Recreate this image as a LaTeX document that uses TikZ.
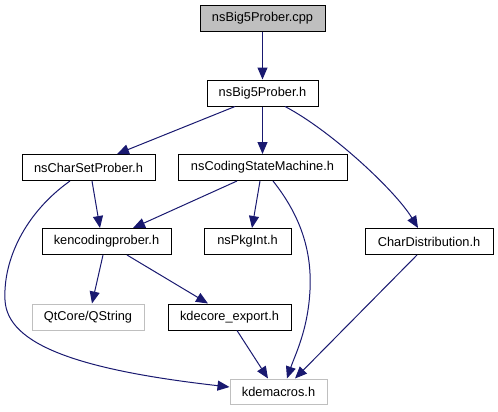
\documentclass[tikz,border=0pt]{standalone}
\usepackage{fontspec}
\setmainfont{Liberation Sans}
\usetikzlibrary{arrows.meta,calc}
\definecolor{edgecol}{HTML}{191970}
\definecolor{graybox}{HTML}{BFBFBF}
\begin{document}
\begin{tikzpicture}[x=0.75pt,y=-0.75pt,
  box/.style={draw=black,line width=0.75pt,fill=white,inner sep=0pt,minimum height=19.5pt,font=\fontsize{9.6pt}{11pt}\selectfont},
  gbox/.style={box,draw=graybox},
  dep/.style={draw=edgecol,line width=0.75pt,-{Triangle[length=9pt,width=7.5pt]}}]
\useasboundingbox (0,0) rectangle (498,411);
\node[box,fill=graybox,minimum width=93.75pt] (cpp) at (262.5,18.5) {nsBig5Prober.cpp};
\node[box,minimum width=83.25pt] (bh) at (262.5,93) {nsBig5Prober.h};
\node[box,minimum width=99.75pt] (csp) at (88.5,167.5) {nsCharSetProber.h};
\node[box,minimum width=126.75pt] (csm) at (262.5,167.5) {nsCodingStateMachine.h};
\node[box,minimum width=96.75pt] (kep) at (106.5,241.5) {kencodingprober.h};
\node[box,minimum width=65.25pt] (pkg) at (247.5,241.5) {nsPkgInt.h};
\node[box,minimum width=96pt] (cd) at (429,241.5) {CharDistribution.h};
\node[gbox,minimum width=84pt] (qs) at (88,317) {QtCore/QString};
\node[box,minimum width=92.25pt] (kex) at (229.5,317) {kdecore\_export.h};
\node[gbox,minimum width=72.75pt,minimum height=18.75pt] (kdm) at (278.5,391.5) {kdemacros.h};

\draw[dep] (cpp.south) -- (bh.north);
\draw[dep] ($(bh.south)+(-27.5,0)$) -- ($(csp.north)+(28.5,0)$);
\draw[dep] (bh.south) -- (csm.north);
\draw[dep] ($(bh.south)+(22.5,0)$) .. controls (330,130) and (395,190) .. ($(cd.north)+(-11,0)$);
\draw[dep] ($(csp.south)+(3.5,0)$) -- ($(kep.north)+(-6.5,0)$);
\draw[dep] ($(csp.south)+(-18.5,0)$) .. controls (25,213) and (3,260) .. (5,300) .. controls (7,345) and (80,370) .. ($(kdm.west)+(0,-4.5)$);
\draw[dep] ($(csm.south)+(-25.5,0)$) -- ($(kep.north)+(26.5,0)$);
\draw[dep] ($(csm.south)+(-2.5,0)$) -- ($(pkg.north)+(4.5,0)$);
\draw[dep] ($(csm.south)+(10.5,0)$) .. controls (300,215) and (312,250) .. (310,290) .. controls (308,330) and (295,355) .. ($(kdm.north)+(8.5,0)$);
\draw[dep] ($(kep.south)+(-3.5,0)$) -- ($(qs.north)+(4,0)$);
\draw[dep] ($(kep.south)+(20.5,0)$) -- ($(kex.north)+(-21.5,0)$);
\draw[dep] ($(kex.south)+(7.5,0)$) -- ($(kdm.north)+(-10.5,0)$);
\draw[dep] ($(cd.south)+(-12,0)$) -- ($(kdm.north)+(16.5,0)$);
\end{tikzpicture}
\end{document}
